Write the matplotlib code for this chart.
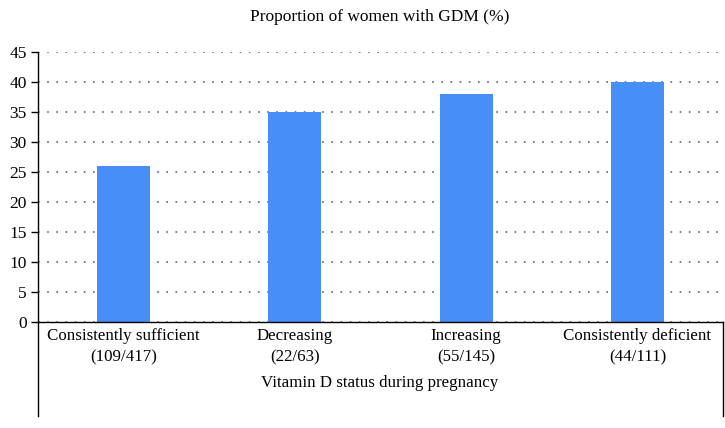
import matplotlib.pyplot as plt
from matplotlib.lines import Line2D

categories = ["Consistently sufficient\n(109/417)", "Decreasing\n(22/63)",
              "Increasing\n(55/145)", "Consistently deficient\n(44/111)"]
values = [26, 35, 38, 40]
yticks = [0, 5, 10, 15, 20, 25, 30, 35, 40, 45]

plt.rcParams['font.family'] = ['Liberation Serif', 'DejaVu Serif']

fig = plt.figure(figsize=(7.25, 4.28), dpi=100)
ax = fig.add_axes([38/725, 1 - 322/428, 685/725, 270/428])

x = range(len(categories))
ax.bar(x, values, width=0.31, color='#478ef7', zorder=2)

ax.set_xlim(-0.5, len(categories) - 0.5)
ax.set_ylim(0, 45)
ax.set_yticks(yticks)
ax.set_xticks(list(x))
ax.set_xticklabels(categories, fontsize=12.2, linespacing=1.5)
ax.tick_params(axis='x', length=0, pad=4)
ax.tick_params(axis='y', length=5, width=1, labelsize=12.5, pad=3)
ax.yaxis.grid(True, linestyle=(0, (1, 4.5)), color='#666666', linewidth=1.2)
ax.set_axisbelow(True)
for s in ['top', 'right']:
    ax.spines[s].set_visible(False)
ax.spines['left'].set_linewidth(1.0)
ax.spines['bottom'].set_linewidth(1.0)

fig.text(380/725, 1 - 17/428, "Proportion of women with GDM (%)", ha='center',
         va='center', fontsize=12.5)
fig.text(380/725, 1 - 383/428, "Vitamin D status during pregnancy", ha='center',
         va='center', fontsize=12.2)

# extended frame below the axis
fig.add_artist(Line2D([38/725, 38/725], [1 - 322/428, 1 - 416/428], color='black', lw=1.0))
fig.add_artist(Line2D([723/725, 723/725], [1 - 322/428, 1 - 416/428], color='black', lw=1.0))

fig.savefig('out.png', dpi=100)
